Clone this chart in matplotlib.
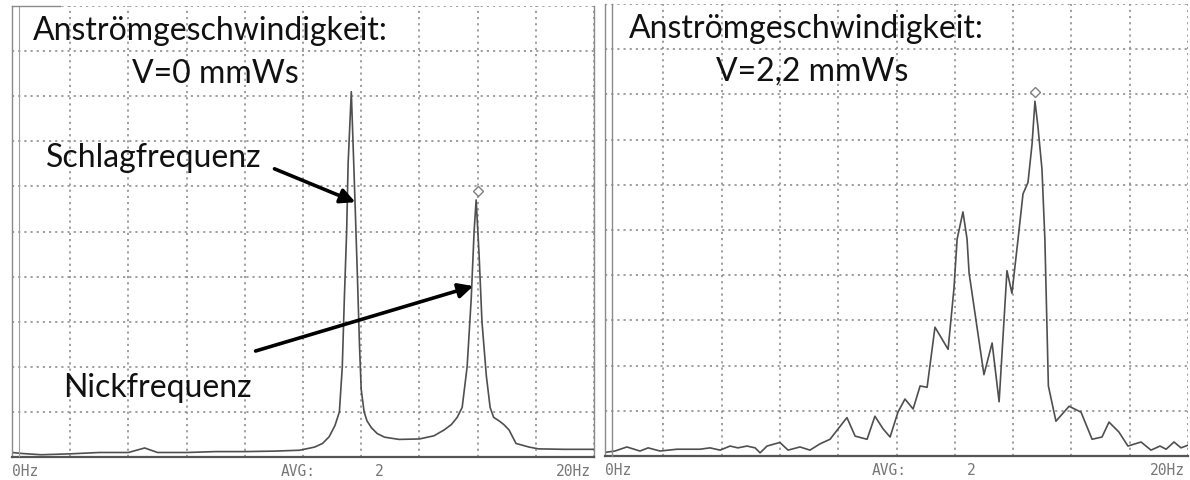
import matplotlib
matplotlib.use("Agg")
import matplotlib.pyplot as plt
from matplotlib.lines import Line2D
import numpy as np

# spectrum at V = 0 mmWs (frequency in Hz, amplitude in grid divisions)
f_left = [0.0, 0.3, 1.0, 2.0, 3.0, 4.0, 4.56, 5.0, 6.0, 7.0, 8.0, 9.0, 9.88,
          10.4, 10.67, 10.9, 11.1, 11.25, 11.35, 11.42, 11.5, 11.55, 11.66,
          11.77, 11.87, 11.94, 12.0, 12.1, 12.2, 12.35, 12.55, 12.8, 13.3,
          14.0, 14.5, 14.85, 15.1, 15.3, 15.47, 15.64, 15.78, 15.88, 15.95,
          16.05, 16.15, 16.3, 16.43, 16.55, 16.74, 16.9, 17.08, 17.32, 17.77,
          18.1, 19.0, 20.0]
a_left = [0.1, 0.08, 0.05, 0.07, 0.1, 0.1, 0.2, 0.1, 0.1, 0.12, 0.12, 0.13, 0.15,
          0.22, 0.3, 0.45, 0.7, 1.0, 2.0, 3.5, 5.0, 6.5, 8.1,
          6.0, 4.0, 2.5, 1.5, 1.0, 0.8, 0.65, 0.52, 0.44, 0.39,
          0.4, 0.47, 0.6, 0.72, 0.88, 1.1, 2.0, 3.5, 5.0, 5.7,
          4.5, 3.0, 1.8, 1.1, 0.88, 0.8, 0.72, 0.6, 0.3, 0.22,
          0.18, 0.17, 0.17]
peak_left = (16.0, 5.9)

# spectrum at V = 2,2 mmWs
f_right = [0.0, 0.34, 0.75, 1.2, 1.48, 1.89, 2.47, 3.26, 3.6, 3.95, 4.29, 4.56,
           4.87, 5.15, 5.32, 5.56, 6.0, 6.28, 6.69, 7.03, 7.38, 7.72, 8.3, 8.58,
           8.99, 9.26, 9.54, 9.78, 10.05, 10.29, 10.57, 10.81, 11.05, 11.32,
           11.77, 11.97, 12.08, 12.28, 12.42, 12.49, 13.0, 13.28, 13.52, 13.79,
           13.96, 14.17, 14.34, 14.51, 14.65, 14.75, 14.85, 14.99, 15.09, 15.21,
           15.47, 15.92, 16.33, 16.71, 17.05, 17.29, 17.63, 17.94, 18.39, 18.73,
           19.04, 19.25, 19.52, 19.76, 20.0]
a_right = [0.08, 0.11, 0.2, 0.11, 0.18, 0.11, 0.15, 0.15, 0.18, 0.13, 0.22, 0.18,
           0.22, 0.18, 0.07, 0.22, 0.3, 0.13, 0.2, 0.13, 0.27, 0.37, 0.85, 0.44,
           0.37, 0.88, 0.6, 0.42, 0.97, 1.26, 1.04, 1.55, 1.52, 2.85,
           2.36, 3.7, 4.8, 5.4, 4.8, 4.05, 1.8, 2.5, 1.2, 4.1,
           3.6, 4.8, 5.8, 6.05, 6.9, 7.85, 7.3, 6.35, 4.8, 1.55,
           0.77, 1.1, 0.97, 0.37, 0.42, 0.75, 0.53, 0.22, 0.31, 0.13,
           0.22, 0.15, 0.31, 0.18, 0.24]
peak_right = (14.75, 8.05)

titles = ["V=0 mmWs", "V=2,2 mmWs"]
header = "Anströmgeschwindigkeit:"

W, H = 1190, 481
fig = plt.figure(figsize=(W / 100, H / 100), dpi=100)
fig.patch.set_facecolor("white")

grid_col = "#8f8f8f"
trace_col = "#4f4f4f"
font = "Lato"
fs = 23


def make_axes(x0, y0, x1, y1):
    ax = fig.add_axes([x0 / W, 1 - y1 / H, (x1 - x0) / W, (y1 - y0) / H])
    ax.set_xlim(0, 20)
    ax.set_ylim(0, 10)
    ax.set_xticks(np.arange(0, 21, 2))
    ax.set_yticks(np.arange(0, 11, 1))
    ax.tick_params(length=0, labelbottom=False, labelleft=False)
    ax.grid(True, color=grid_col, linestyle=(0, (1.3, 2.4)), linewidth=1.2)
    for s in ax.spines.values():
        s.set_color("#8a8a8a")
        s.set_linewidth(1.0)
    ax.spines["bottom"].set_color("#555555")
    ax.spines["bottom"].set_linewidth(1.6)
    ax.spines["top"].set_visible(False)
    return ax


axL = make_axes(12, 7, 594, 458)
axR = make_axes(605, 5, 1188, 457)
axR.spines["right"].set_visible(False)

# extra frame lines of the printout
fig.add_artist(Line2D([612 / W, 612 / W], [1 - 457 / H, 1 - 5 / H],
                      color="#8a8a8a", lw=1.0))
fig.add_artist(Line2D([19 / W, 19 / W], [1 - 457 / H, 1 - 8 / H],
                      color="#a0a0a0", lw=0.8))
fig.add_artist(Line2D([12 / W, 60 / W], [1 - 7 / H, 1 - 7 / H],
                      color="#8a8a8a", lw=1.0))

axL.plot(f_left, a_left, color=trace_col, lw=1.2)
axR.plot(f_right, a_right, color=trace_col, lw=1.2)
for ax, p in ((axL, peak_left), (axR, peak_right)):
    ax.plot([p[0]], [p[1]], marker="D", ms=5.5, mfc="white", mec="#808080",
            mew=1.0, clip_on=False)

# headers
for ax, t, xh, xt in ((axL, titles[0], 0.72, 4.12), (axR, titles[1], 0.82, 3.81)):
    ax.text(xh, 9.27, header, family=font, fontsize=fs, color="#111111",
            va="baseline", ha="left")
    ax.text(xt, 8.32, t, family=font, fontsize=fs, color="#111111",
            va="baseline", ha="left")

# peak annotations
axL.text(1.17, 6.45, "Schlagfrequenz", family=font, fontsize=fs,
         color="#111111", va="baseline", ha="left")
axL.annotate("", xy=(11.8, 5.65), xytext=(9.02, 6.39),
             arrowprops=dict(arrowstyle="-|>", lw=2.6, color="black",
                             mutation_scale=22, shrinkA=0, shrinkB=0))
axL.text(1.75, 1.35, "Nickfrequenz", family=font, fontsize=fs,
         color="#111111", va="baseline", ha="left")
axL.annotate("", xy=(15.85, 3.79), xytext=(8.37, 2.35),
             arrowprops=dict(arrowstyle="-|>", lw=2.6, color="black",
                             mutation_scale=22, shrinkA=0, shrinkB=0))

# analyzer footer
for ax, xa, x2 in ((axL, 0.461, 0.624), (axR, 0.458, 0.621)):
    kw = dict(family="DejaVu Sans Mono", fontsize=10.5, color="#777777",
              va="center", transform=ax.transAxes)
    ax.text(0.0, -0.029, "0Hz", ha="left", **kw)
    ax.text(xa, -0.029, "AVG:", ha="left", **kw)
    ax.text(x2, -0.029, "2", ha="left", **kw)
    ax.text(0.995, -0.029, "20Hz", ha="right", **kw)

fig.savefig("out.png", dpi=100, facecolor="white")
